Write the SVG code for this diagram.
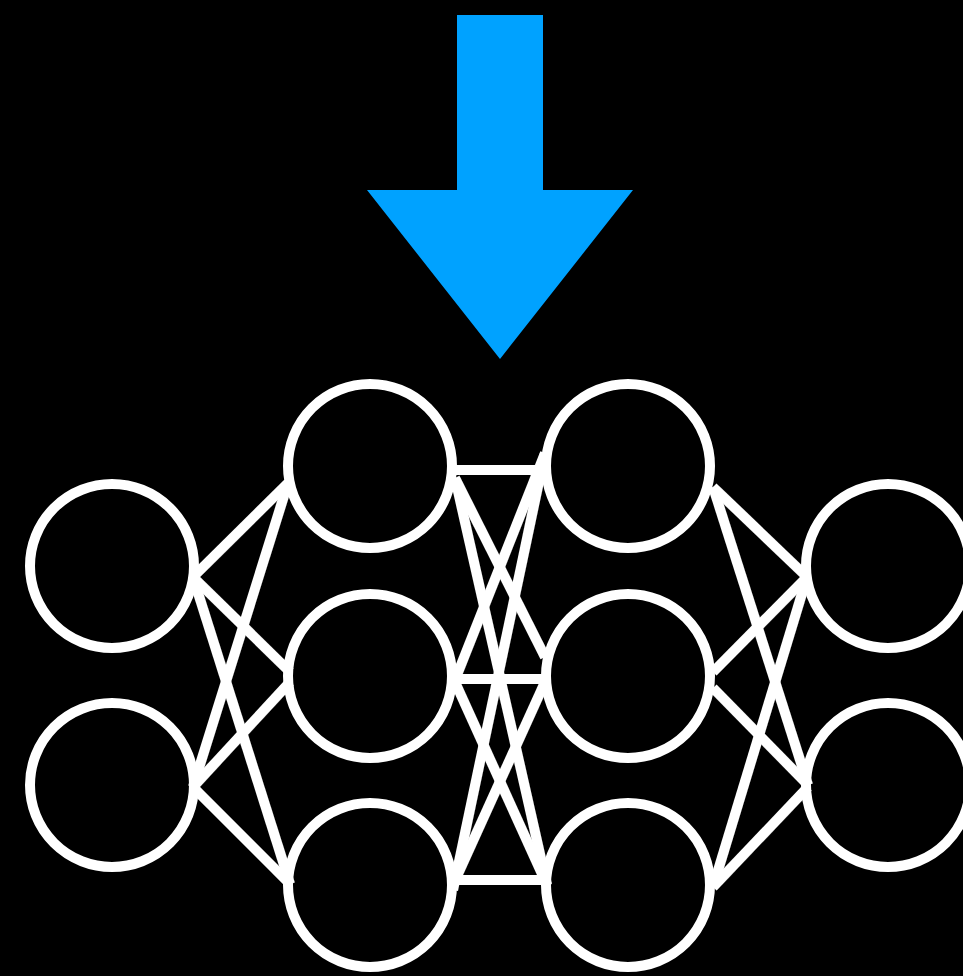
<svg xmlns="http://www.w3.org/2000/svg" width="963" height="976" viewBox="0 0 963 976">
<defs>
<style>
.node{fill:none;stroke:#ffffff;stroke-width:10}
.edge{stroke:#ffffff;stroke-width:10;stroke-linecap:butt;fill:none}
.arrow{fill:#00a2ff}
</style>
<filter id="sh" x="-20%" y="-20%" width="140%" height="140%">
<feDropShadow dx="2" dy="2" stdDeviation="2" flood-color="#000" flood-opacity="0.35"/>
</filter>
</defs>
<rect width="963" height="976" fill="#000000"/>
<g id="arrow">
<polygon class="arrow" points="457,15 543,15 543,190 633,190 500,359 367,190 457,190"/>
</g>
<g id="connectors" filter="url(#sh)">
<line class="edge" x1="193" y1="577" x2="288" y2="483"/>
<line class="edge" x1="193" y1="577" x2="290" y2="672"/>
<line class="edge" x1="193" y1="577" x2="290" y2="884"/>
<line class="edge" x1="193" y1="787" x2="288" y2="483"/>
<line class="edge" x1="193" y1="787" x2="290" y2="682"/>
<line class="edge" x1="193" y1="787" x2="290" y2="884"/>
<line class="edge" x1="453" y1="470" x2="545" y2="470"/>
<line class="edge" x1="455" y1="478" x2="545" y2="657"/>
<line class="edge" x1="455" y1="478" x2="547" y2="885"/>
<line class="edge" x1="545" y1="453" x2="455" y2="680"/>
<line class="edge" x1="545" y1="453" x2="453" y2="890"/>
<line class="edge" x1="453" y1="679" x2="547" y2="679"/>
<line class="edge" x1="455" y1="682" x2="547" y2="885"/>
<line class="edge" x1="545" y1="682" x2="453" y2="885"/>
<line class="edge" x1="453" y1="880" x2="547" y2="880"/>
<line class="edge" x1="713" y1="487" x2="807" y2="577"/>
<line class="edge" x1="713" y1="487" x2="808" y2="785"/>
<line class="edge" x1="713" y1="672" x2="805" y2="579"/>
<line class="edge" x1="713" y1="688" x2="808" y2="785"/>
<line class="edge" x1="713" y1="887" x2="807" y2="577"/>
<line class="edge" x1="713" y1="887" x2="808" y2="787"/>
</g>
<g id="n1"><circle class="node" cx="112" cy="566" r="82"/></g>
<g id="n2"><circle class="node" cx="112" cy="785" r="82"/></g>
<g id="n3"><circle class="node" cx="370" cy="466" r="82"/></g>
<g id="n4"><circle class="node" cx="370" cy="676" r="82"/></g>
<g id="n5"><circle class="node" cx="370" cy="885" r="82"/></g>
<g id="n6"><circle class="node" cx="628" cy="466" r="82"/></g>
<g id="n7"><circle class="node" cx="628" cy="676" r="82"/></g>
<g id="n8"><circle class="node" cx="628" cy="885" r="82"/></g>
<g id="n9"><circle class="node" cx="888" cy="566" r="82"/></g>
<g id="n10"><circle class="node" cx="888" cy="785" r="82"/></g>
</svg>
